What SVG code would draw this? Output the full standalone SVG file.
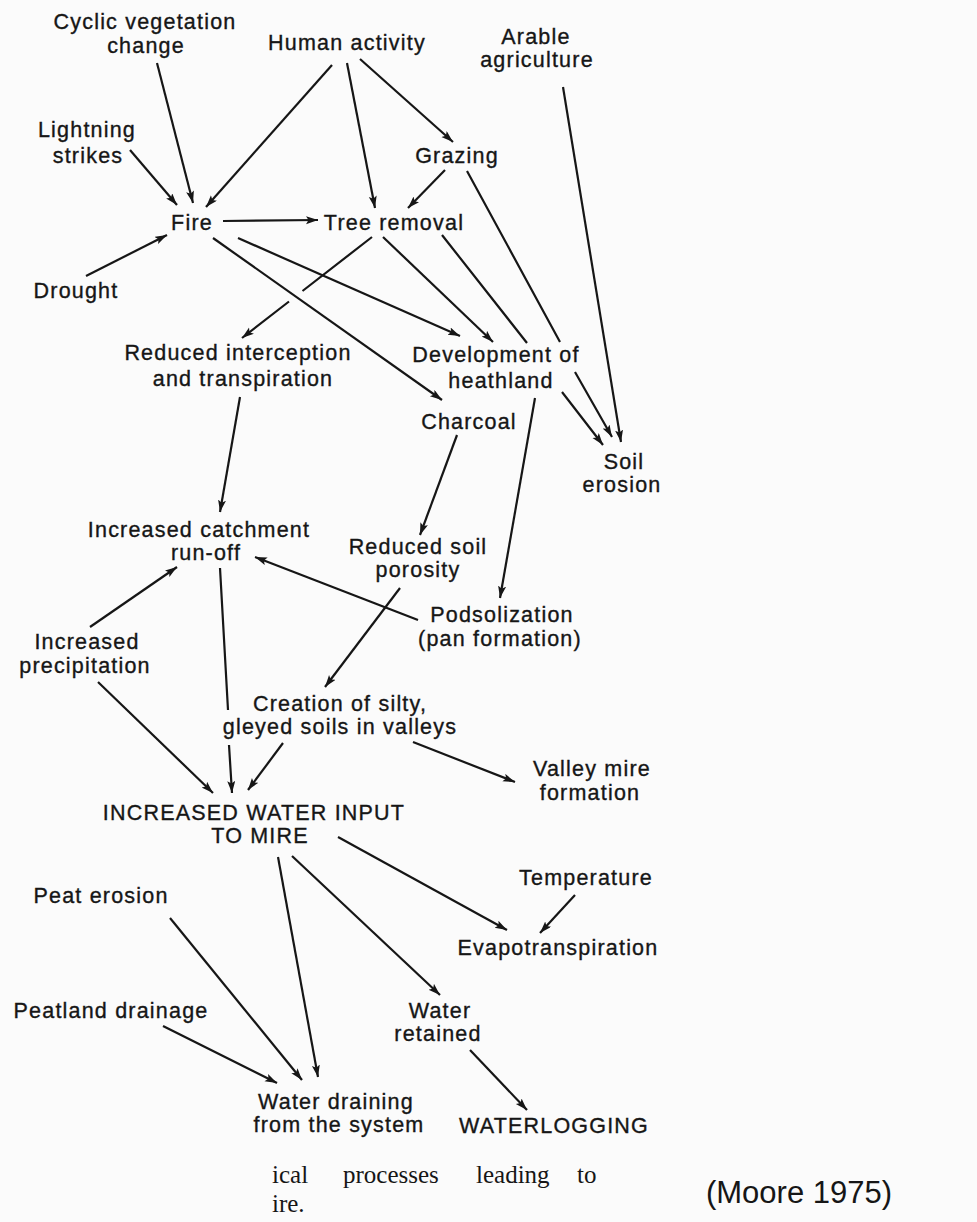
<svg xmlns="http://www.w3.org/2000/svg" width="977" height="1222" viewBox="0 0 977 1222">
<style>
.t{font-family:"Liberation Sans",Arial,Helvetica,sans-serif;font-size:21.5px;letter-spacing:1.2px;text-anchor:middle;fill:#161616;stroke:#161616;stroke-width:0.35px}
.c{stroke:#161616;stroke-width:2.2;fill:none;marker-end:url(#ah)}
.cap{font-family:"Liberation Serif","Times New Roman",serif;font-size:25px;fill:#161616}
.src{font-family:"Liberation Sans",Arial,sans-serif;font-size:31px;fill:#161616;text-anchor:middle}
</style>
<defs>
<marker id="ah" markerWidth="14" markerHeight="10" refX="12" refY="4" orient="auto" markerUnits="userSpaceOnUse">
<path d="M0,0 L12,4 L0,8 L2.5,4 z" fill="#161616"/>
</marker>
</defs>
<rect width="977" height="1222" fill="#fbfbfb"/>
<g id="connectors">
<path class="c" d="M157,63 L193,203"/>
<path class="c" d="M332,65 L206,207"/>
<path class="c" d="M130,150 L177,205"/>
<path class="c" d="M86,276 L167,235"/>
<path class="c" d="M347,63 L375,208"/>
<path class="c" d="M360,59 L453,142"/>
<path class="c" d="M223,221 L318,220"/>
<path class="c" d="M445,170 L408,208"/>
<path class="c" d="M467,171 L560,342 M575,372 L612,437"/>
<path class="c" d="M442,235 L527,343 M562,392 L603,445"/>
<path class="c" d="M563,87 L621,442"/>
<path class="c" d="M238,238 L460,336"/>
<path class="c" d="M383,237 L493,342"/>
<path class="c" d="M213,238 L442,400"/>
<path class="c" d="M372,237 L302.5,291 M289,301.5 L242,338"/>
<path class="c" d="M240,397 L220,512"/>
<path class="c" d="M457,435 L420,535"/>
<path class="c" d="M535,398 L500,598"/>
<path class="c" d="M90,627 L177,567"/>
<path class="c" d="M418,620 L255,557"/>
<path class="c" d="M400,588 L325,687"/>
<path class="c" d="M220,568 L228,710 M229,745 L232,793"/>
<path class="c" d="M98,682 L213,793"/>
<path class="c" d="M283,743 L248,790"/>
<path class="c" d="M413,742 L515,782"/>
<path class="c" d="M338,837 L507,930"/>
<path class="c" d="M575,895 L540,933"/>
<path class="c" d="M292,856 L440,995"/>
<path class="c" d="M278,857 L318,1077"/>
<path class="c" d="M170,918 L302,1080"/>
<path class="c" d="M163,1026 L277,1083"/>
<path class="c" d="M470,1050 L527,1110"/>
</g>
<g id="cyclic"><text class="t" x="145" y="29">Cyclic vegetation</text><text class="t" x="146" y="53">change</text></g>
<g id="human"><text class="t" x="347" y="50">Human activity</text></g>
<g id="arable"><text class="t" x="536" y="44">Arable</text><text class="t" x="537" y="67">agriculture</text></g>
<g id="lightning"><text class="t" x="87" y="137">Lightning</text><text class="t" x="88" y="163">strikes</text></g>
<g id="grazing"><text class="t" x="457" y="163">Grazing</text></g>
<g id="fire"><text class="t" x="192" y="230">Fire</text></g>
<g id="tree"><text class="t" x="394" y="230">Tree removal</text></g>
<g id="drought"><text class="t" x="76" y="298">Drought</text></g>
<g id="reduced-interception"><text class="t" x="238" y="360">Reduced interception</text><text class="t" x="243" y="386">and transpiration</text></g>
<g id="heathland"><text class="t" x="496" y="362">Development of</text><text class="t" x="501" y="388">heathland</text></g>
<g id="charcoal"><text class="t" x="469" y="429">Charcoal</text></g>
<g id="soil-erosion"><text class="t" x="624" y="469">Soil</text><text class="t" x="622" y="492">erosion</text></g>
<g id="catchment"><text class="t" x="199" y="537">Increased catchment</text><text class="t" x="206" y="560">run-off</text></g>
<g id="porosity"><text class="t" x="418" y="554">Reduced soil</text><text class="t" x="418" y="577">porosity</text></g>
<g id="podsol"><text class="t" x="502" y="622">Podsolization</text><text class="t" x="500" y="646">(pan formation)</text></g>
<g id="precip"><text class="t" x="87" y="649">Increased</text><text class="t" x="85" y="673">precipitation</text></g>
<g id="creation"><text class="t" x="340" y="711">Creation of silty,</text><text class="t" x="340" y="734">gleyed soils in valleys</text></g>
<g id="valley-mire"><text class="t" x="592" y="776">Valley mire</text><text class="t" x="590" y="800">formation</text></g>
<g id="water-input"><text class="t" x="254" y="820">INCREASED WATER INPUT</text><text class="t" x="260" y="843">TO MIRE</text></g>
<g id="temperature"><text class="t" x="586" y="885">Temperature</text></g>
<g id="peat-erosion"><text class="t" x="101" y="903">Peat erosion</text></g>
<g id="evapo"><text class="t" x="558" y="955">Evapotranspiration</text></g>
<g id="peatland-drainage"><text class="t" x="111" y="1018">Peatland drainage</text></g>
<g id="retained"><text class="t" x="440" y="1018">Water</text><text class="t" x="438" y="1041">retained</text></g>
<g id="draining"><text class="t" x="336" y="1109">Water draining</text><text class="t" x="339" y="1132">from the system</text></g>
<g id="waterlogging"><text class="t" x="554" y="1133">WATERLOGGING</text></g>
<g id="caption">
<text class="cap" y="1183"><tspan x="272">ical</tspan><tspan x="343">processes</tspan><tspan x="476">leading</tspan><tspan x="577">to</tspan></text>
<text class="cap" x="272" y="1212">ire.</text>
<text class="src" x="799" y="1203">(Moore 1975)</text>
</g>
</svg>
